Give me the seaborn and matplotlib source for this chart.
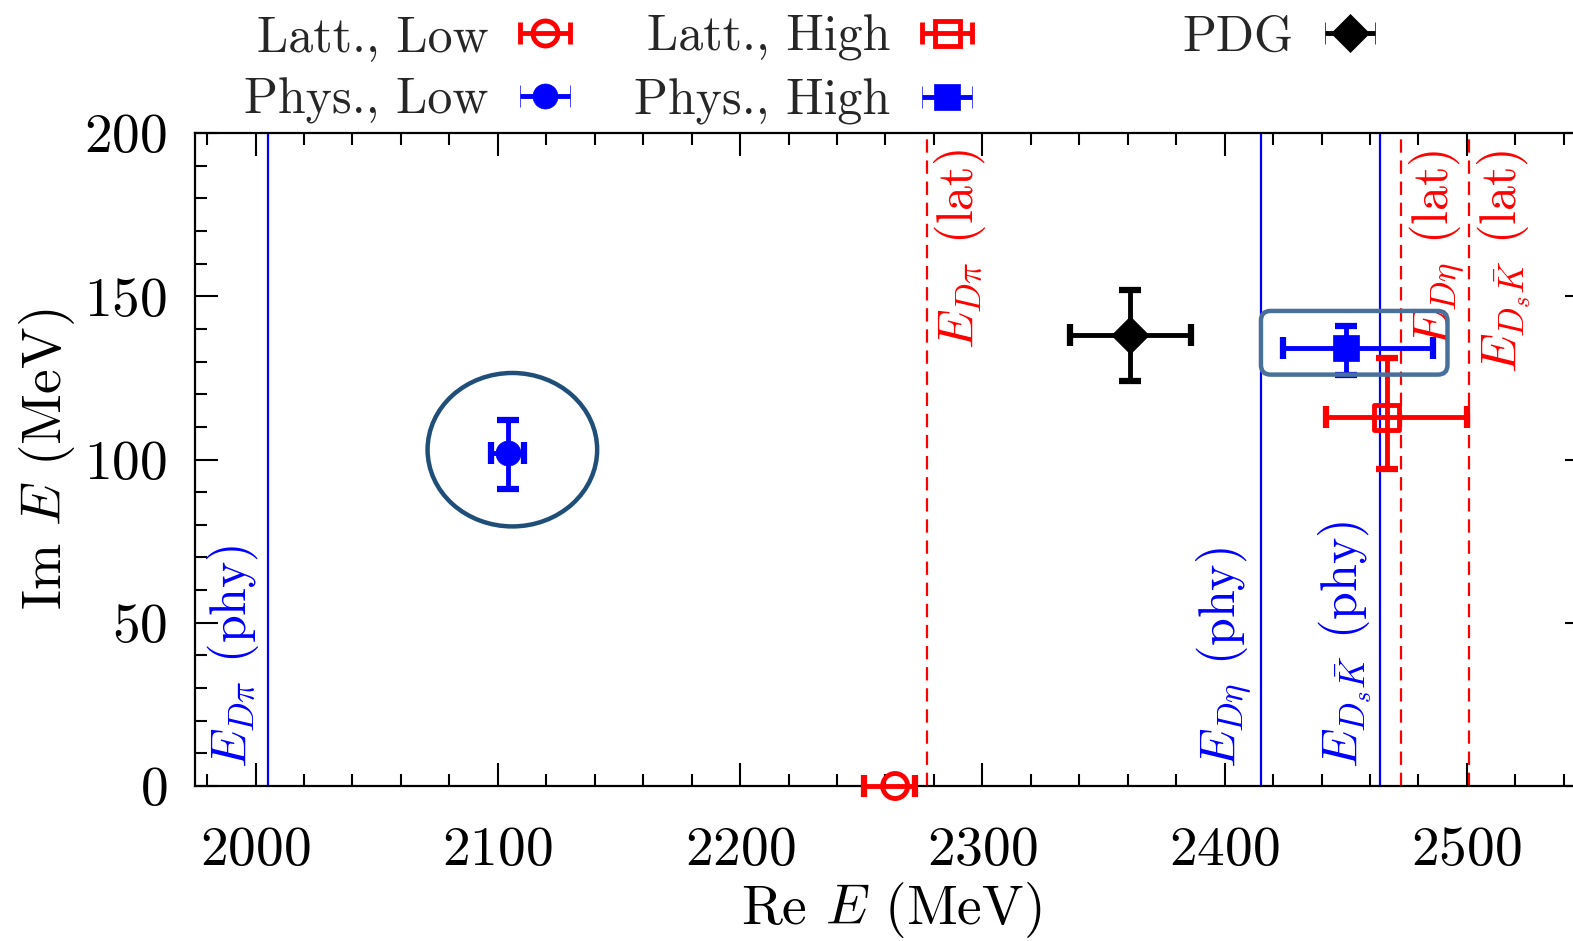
import numpy as np
import pandas as pd
import matplotlib
matplotlib.use("Agg")
import matplotlib.pyplot as plt
import seaborn as sns
from matplotlib.patches import Ellipse, FancyBboxPatch
from matplotlib.ticker import MultipleLocator

# ---------------- data ----------------
series_names = ["Latt., Low", "Phys., Low", "Latt., High", "Phys., High", "PDG"]
re_E = [2264, 2104, 2467, 2450, 2361]
im_E = [0, 102, 113, 134, 138]
re_err_lo = [13, 7, 25, 26, 25]
re_err_hi = [8, 7, 33, 36, 25]
im_err_lo = [0, 11, 16, 8, 14]
im_err_hi = [0, 10, 18, 7, 14]

threshold_labels = [r"$E_{D\pi}$ (phy)", r"$E_{D\eta}$ (phy)", r"$E_{D_s\bar{K}}$ (phy)",
                    r"$E_{D\pi}$ (lat)", r"$E_{D\eta}$ (lat)", r"$E_{D_s\bar{K}}$ (lat)"]
threshold_E = [2005, 2415, 2464, 2277, 2473, 2501]
threshold_kind = ["phy", "phy", "phy", "lat", "lat", "lat"]

x_ticks = [2000, 2100, 2200, 2300, 2400, 2500]
y_ticks = [0, 50, 100, 150, 200]

df = pd.DataFrame({"series": series_names, "Re": re_E, "Im": im_E,
                   "xlo": re_err_lo, "xhi": re_err_hi, "ylo": im_err_lo, "yhi": im_err_hi})

# ---------------- styles ----------------
colors = {"Latt., Low": "#FF0000", "Phys., Low": "#0000FF", "Latt., High": "#FF0000",
          "Phys., High": "#0000FF", "PDG": "#000000"}
markers = {"Latt., Low": "o", "Phys., Low": "o", "Latt., High": "s",
           "Phys., High": "s", "PDG": "D"}
filled = {"Latt., Low": False, "Phys., Low": True, "Latt., High": False,
          "Phys., High": True, "PDG": True}
msizes = {"Latt., Low": 18, "Phys., Low": 18, "Latt., High": 18,
          "Phys., High": 19, "PDG": 19}

sns.set_theme(style="ticks")
plt.rcParams["font.family"] = "serif"
plt.rcParams["font.serif"] = ["cmr10"]
plt.rcParams["mathtext.fontset"] = "cm"
plt.rcParams["axes.formatter.use_mathtext"] = True
plt.rcParams["axes.unicode_minus"] = False

W, H = 1573, 941
fig = plt.figure(figsize=(W / 100, H / 100), dpi=100)
ax = fig.add_axes([195 / W, (H - 786) / H, (1588 - 195) / W, (786 - 133) / H])

ax.set_xlim(1975, 2550)
ax.set_ylim(0, 200)

# threshold lines
for lab, xe, kind in zip(threshold_labels, threshold_E, threshold_kind):
    if kind == "phy":
        ax.axvline(xe, color="#0000FF", lw=1.6, zorder=1)
        ax.annotate(lab, xy=(xe, 0.028), xycoords=("data", "axes fraction"),
                    xytext=(-5, 0), textcoords="offset points", rotation=90,
                    ha="right", va="bottom", color="#0000FF", fontsize=36)
    else:
        ax.axvline(xe, color="#FF0000", lw=1.6, ls=(0, (6, 3.5)), zorder=1)
        ax.annotate(lab, xy=(xe, 0.975), xycoords=("data", "axes fraction"),
                    xytext=(4, 0), textcoords="offset points", rotation=90,
                    ha="left", va="top", color="#FF0000", fontsize=36)

# error bars and markers
handles = {}
for _, r in df.iterrows():
    name = r["series"]
    c = colors[name]
    yerr = None if (r["ylo"] == 0 and r["yhi"] == 0) else [[r["ylo"]], [r["yhi"]]]
    eb = ax.errorbar([r["Re"]], [r["Im"]], xerr=[[r["xlo"]], [r["xhi"]]], yerr=yerr,
                     fmt="none", ecolor=c, elinewidth=3.5, capsize=8, capthick=4.5,
                     zorder=4)
    for art in eb.lines[1] + eb.lines[2]:
        art.set_clip_on(False)
    ms = msizes[name]
    sns.scatterplot(x=[r["Re"]], y=[r["Im"]], ax=ax, marker=markers[name], s=ms ** 2,
                    color=c, facecolor=c if filled[name] else "none", edgecolor=c,
                    linewidth=3.5 if not filled[name] else 0.5, zorder=5,
                    clip_on=False, legend=False)
    # legend proxy (NaN point, never drawn in the axes)
    handles[name] = ax.errorbar([np.nan], [np.nan], xerr=[1.0], fmt=markers[name],
                                color=c, ms=ms, mfc=c if filled[name] else "none",
                                mec=c, mew=3.5 if not filled[name] else 0.5,
                                elinewidth=3.5, capsize=8, capthick=4.5)

# annotation shapes
ax.add_patch(Ellipse((re_E[1] + 2, im_E[1] + 1), width=70, height=47, fill=False,
                     ec="#1F4E79", lw=3.2, zorder=6))
ax.add_patch(FancyBboxPatch((2415, 126), 77, 19.5,
                            boxstyle="round,pad=0,rounding_size=4",
                            mutation_aspect=0.74, fill=False, ec="#48709A",
                            lw=3.2, zorder=6))

# axes styling
ax.set_xticks(x_ticks)
ax.set_yticks(y_ticks)
ax.xaxis.set_minor_locator(MultipleLocator(20))
ax.yaxis.set_minor_locator(MultipleLocator(10))
ax.tick_params(which="both", direction="in", top=True, right=True, color="black",
               width=1.5, labelsize=40, labelcolor="black")
ax.tick_params(which="major", length=16.5)
ax.tick_params(which="minor", length=8.5)
ax.tick_params(axis="x", pad=29)
ax.tick_params(axis="y", pad=20)
for s in ax.spines.values():
    s.set_linewidth(1.6)
    s.set_color("black")
ax.set_xlabel(r"Re $E$ (MeV)", fontsize=40, labelpad=3, color="black")
ax.set_ylabel(r"Im $E$ (MeV)", fontsize=40, labelpad=5, color="black")

# legends (gnuplot style: label then marker, fixed columns)
leg_kw = dict(frameon=False, markerfirst=False, borderpad=0, borderaxespad=0,
              handlelength=1.05, handletextpad=0.6, labelspacing=0.34, fontsize=36,
              loc="upper right")
cols = [(["Latt., Low", "Phys., Low"], 571), (["Latt., High", "Phys., High"], 973),
        (["PDG"], 1376)]
for names, xr in cols:
    lg = fig.legend([handles[n] for n in names], names,
                    bbox_to_anchor=(xr / W, 1 - 15 / H), **leg_kw)

fig.savefig("out.png", dpi=100)
